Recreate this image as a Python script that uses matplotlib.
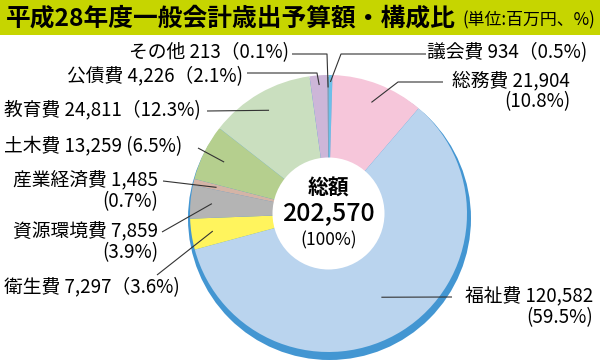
import matplotlib
matplotlib.use("Agg")
import matplotlib.pyplot as plt
from matplotlib.patches import Circle, Rectangle
import numpy as np

plt.rcParams['font.family'] = ['Noto Sans CJK JP', 'DejaVu Sans']

# ---- data ----
categories = ["議会費", "総務費", "福祉費", "衛生費", "資源環境費",
              "産業経済費", "土木費", "教育費", "公債費", "その他"]
amounts = [934, 21904, 120582, 7297, 7859, 1485, 13259, 24811, 4226, 213]
percents = ["0.5%", "10.8%", "59.5%", "3.6%", "3.9%",
            "0.7%", "6.5%", "12.3%", "2.1%", "0.1%"]
total_label = "202,570"
total_pct = "100%"
title = "平成28年度一般会計歳出予算額・構成比"
unit = "(単位:百万円、%)"

colors = ["#6cc0ea", "#f6c6da", "#bad4ee", "#fff45d", "#b4b4b4",
          "#d4b4a6", "#b5cf8e", "#cadfbf", "#cdb6d8", "#a0a0a0"]

W, H = 600, 361
fig = plt.figure(figsize=(W / 100, H / 100), dpi=100)
ax = fig.add_axes([0, 0, 1, 1])


def Y(y):
    return H - y


CX, CY, R = 328.5, 213.5, 138.5
HOLE = 56

# title bar
ax.add_patch(Rectangle((0, Y(35)), W, 35, fc="#c6d500", ec="none", zorder=0))
ax.text(6, Y(19), title, fontsize=17.8, fontweight="bold", ha="left", va="center", zorder=5)
ax.text(595, Y(20), unit, fontsize=12.2, ha="right", va="center", zorder=5)

# blue shadow ring
ax.add_patch(Circle((CX + 1, Y(CY + 5)), R + 3, fc="#4396d2", ec="none", zorder=0.5))

wedges, _ = ax.pie(amounts, colors=colors, startangle=90, counterclock=False,
                   center=(CX, Y(CY)), radius=R,
                   wedgeprops=dict(linewidth=0, zorder=1))

ax.add_patch(Circle((CX, Y(CY)), HOLE, fc="white", ec="none", zorder=3))

# center text
ax.text(CX, Y(188), "総額", fontsize=15, fontweight="bold", ha="center", va="center", zorder=5)
ax.text(CX, Y(214), total_label, fontsize=18, fontweight="medium", ha="center", va="center", zorder=5)
ax.text(CX, Y(240), "(" + total_pct + ")", fontsize=12.5, ha="center", va="center", zorder=5)

# label layout: radius fraction of anchor, elbow points (px)
rfrac = [0.95, 0.86, 0.715, 0.845, 0.845, 0.83, 0.84, 0.86, 0.93, 0.91]
paths = [
    [(341, 54), (426, 54)],
    [(398, 82), (443, 82)],
    [(452, 297)],
    [(157, 275)],
    [(162, 232)],
    [(163, 181)],
    [(198, 148)],
    [(207, 111)],
    [(317, 73), (247, 73)],
    [(327, 54), (292, 54)],
]
FS = 13.5
for i, w in enumerate(wedges):
    a = np.deg2rad((w.theta1 + w.theta2) / 2)
    ax0 = CX + rfrac[i] * R * np.cos(a)
    ay0 = Y(CY) + rfrac[i] * R * np.sin(a)
    xs = [ax0] + [p[0] for p in paths[i]]
    ys = [ay0] + [Y(p[1]) for p in paths[i]]
    ax.plot(xs, ys, color="#333333", lw=0.8, zorder=4, solid_capstyle="butt")

name = categories
amt = [f"{v:,}" for v in amounts]
txt = dict(fontsize=FS, va="center", zorder=5)
two = dict(fontsize=FS, va="center", zorder=5, multialignment="right", linespacing=1.0)
# 議会費
ax.text(427, Y(53), f"{name[0]} {amt[0]}（{percents[0]})", ha="left", **txt)
# 総務費
ax.text(570, Y(91), f"{name[1]} {amt[1]}\n({percents[1]})", ha="right", **two)
# 福祉費
ax.text(593, Y(307), f"{name[2]} {amt[2]}\n({percents[2]})", ha="right", **two)
# 衛生費
ax.text(4, Y(288), f"{name[3]} {amt[3]}（{percents[3]})", ha="left", **txt)
# 資源環境費
ax.text(158, Y(242), f"{name[4]} {amt[4]}\n({percents[4]})", ha="right", **two)
# 産業経済費
ax.text(158, Y(191), f"{name[5]} {amt[5]}\n({percents[5]})", ha="right", **two)
# 土木費
ax.text(4, Y(147), f"{name[6]} {amt[6]} ({percents[6]})", ha="left", **txt)
# 教育費
ax.text(4, Y(111), f"{name[7]} {amt[7]}（{percents[7]})", ha="left", **txt)
# 公債費
ax.text(243, Y(77), f"{name[8]} {amt[8]}（{percents[8]})", ha="right", **txt)
# その他
ax.text(289, Y(53), f"{name[9]} {amt[9]}（{percents[9]})", ha="right", **txt)

ax.set_xlim(0, W)
ax.set_ylim(0, H)
ax.set_aspect("auto")
ax.axis("off")

fig.savefig("out.png", dpi=100)
